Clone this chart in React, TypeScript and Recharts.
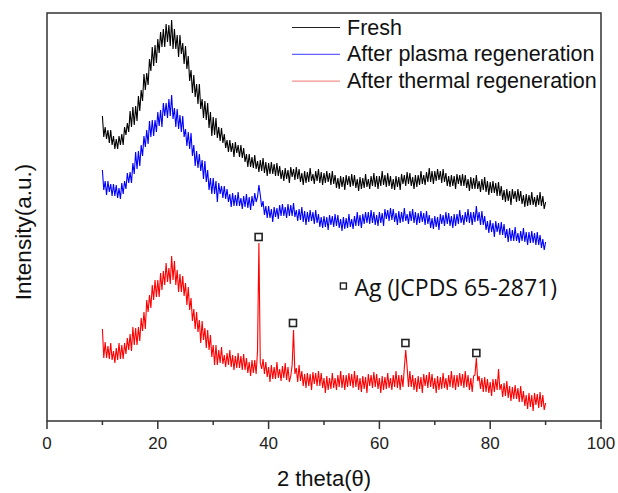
// XRD patterns of the sorbent: fresh vs. regenerated, with Ag reflections marked.
import { ComposedChart, Line, XAxis, YAxis, ReferenceArea, ReferenceDot, Legend } from "recharts";

const startAngle = 10;
const stepAngle = 0.25;

// intensity (a.u., offset per pattern), one value per 0.25 deg from 10 to 90
const fresh = [
  305,284,294,282, 291,278,291,276, 285,272,282,272, 285,276,287,276,
  294,286,298,289, 310,294,314,296, 315,300,325,310, 331,320,347,331,
  348,336,362,350, 374,355,376,358, 382,368,389,374, 392,374,397,379,
  396,375,401,372, 392,372,386,364, 386,367,378,357, 375,352,365,340,
  351,328,346,324, 337,317,337,312, 322,303,320,301, 318,293,309,285,
  304,286,303,283, 294,280,293,278, 287,273,281,269, 281,269,278,264,
  279,268,276,264, 276,263,273,259, 267,254,267,254, 264,253,266,252,
  260,249,261,250, 263,248,259,245, 258,247,259,247, 257,245,258,245,
  255,242,251,240, 253,242,251,238, 254,244,252,241, 254,242,252,239,
  248,236,250,238, 249,239,253,240, 247,237,250,240, 252,238,249,236,
  248,238,250,239, 248,236,250,237, 246,233,243,232, 245,234,244,231,
  246,236,245,234, 247,235,246,233, 242,230,244,232, 243,233,247,234,
  242,232,245,235, 248,234,245,232, 245,235,250,236, 246,234,248,235,
  245,232,242,231, 245,234,244,231, 247,237,246,235, 249,237,248,235,
  244,232,246,234, 246,236,250,237, 246,236,249,239, 253,239,250,237,
  250,240,252,241, 250,238,252,239, 248,235,245,234, 246,235,245,232,
  247,237,246,235, 247,235,246,233, 242,230,244,232, 243,232,246,232,
  240,229,242,231, 244,229,240,226, 239,228,240,228, 238,225,239,225,
  235,221,231,219, 232,220,230,216, 232,222,230,219, 232,220,230,217,
  226,214,227,215, 226,216,229,216, 224,214,226,216, 229,215,225,212,
  219,
];

const plasma = [
  251,231,240,226, 240,229,237,225, 237,225,236,223, 233,222,238,227,
  240,232,248,238, 249,238,258,247, 269,252,270,255, 276,265,285,274,
  291,277,300,284, 301,285,301,289, 309,295,311,294, 318,305,318,303,
  322,305,326,302, 313,294,312,292, 306,289,305,284, 292,275,289,272,
  288,265,276,255, 270,253,267,250, 261,242,260,239, 251,231,243,227,
  243,227,240,219, 238,227,235,223, 235,222,232,219, 227,214,228,215,
  226,215,229,215, 223,212,225,214, 227,213,224,211, 225,215,228,219,
  224,236,226,214, 220,206,215,203, 215,203,212,199, 214,204,213,202,
  216,205,217,205, 214,203,217,205, 216,205,218,204, 211,200,212,201,
  214,199,210,196, 209,199,211,200, 209,197,211,198, 207,194,204,193,
  205,194,204,191, 206,196,205,194, 207,195,206,193, 202,190,204,192,
  203,193,207,194, 202,192,205,195, 209,195,206,193, 207,197,209,198,
  209,197,211,198, 209,196,206,195, 209,198,208,195, 212,202,211,200,
  213,201,212,199, 208,196,210,198, 209,199,213,200, 207,197,210,200,
  212,198,209,196, 208,198,210,199, 208,196,210,197, 206,193,203,192,
  205,194,204,191, 207,197,206,195, 209,197,208,195, 205,193,207,195,
  207,197,211,198, 206,196,209,199, 212,198,209,196, 209,199,215,200,
  209,196,210,196, 205,191,200,188, 201,189,198,184, 200,189,198,186,
  199,186,197,183, 192,179,193,180, 191,180,194,180, 188,178,190,180,
  193,179,189,176, 189,178,190,178, 188,176,189,176, 186,173,182,171,
  179,
];

const thermal = [
  92,63,79,63, 75,62,78,61, 70,58,73,61, 78,62,76,62,
  78,67,83,71, 87,70,94,76, 93,76,94,80, 103,90,109,92,
  121,109,126,113, 136,121,141,124, 141,124,148,131, 150,136,158,139,
  153,137,165,141, 160,136,151,129, 147,129,145,125, 138,116,134,111,
  123,100,112,92, 109,89,101,78, 100,81,93,73, 91,71,86,64,
  76,56,76,56, 71,58,74,57, 66,54,68,56, 71,54,66,51,
  65,53,68,53, 65,51,67,51, 63,48,59,45, 61,48,61,47,
  70,178,58,52, 62,47,59,44, 54,39,56,42, 54,42,59,43,
  52,40,55,43, 58,41,54,39, 45,56,91,47, 53,39,56,40,
  50,35,47,33, 48,35,47,31, 49,37,48,35, 50,35,48,33,
  43,28,45,31, 43,32,48,33, 43,31,46,34, 50,33,46,31,
  46,34,48,35, 47,33,50,34, 46,31,43,29, 45,32,44,28,
  47,35,46,33, 49,34,47,32, 43,28,45,31, 44,32,48,33,
  43,31,46,34, 50,33,46,31, 46,34,53,71, 54,34,50,34,
  46,31,43,29, 45,32,44,28, 47,35,46,33, 49,34,47,32,
  43,28,45,31, 44,32,48,33, 43,31,46,34, 50,33,46,31,
  46,34,48,35, 47,33,50,34, 46,31,43,29, 45,46,63,40,
  45,32,43,29, 44,29,42,28, 39,25,42,29, 42,31,52,31,
  37,24,38,25, 40,23,35,20, 34,22,36,22, 33,19,35,19,
  30,15,26,12, 28,14,26,10, 28,16,27,13, 29,14,26,11,
  18,
];

// Ag reflections (2theta, marker height)
const agPeaks = [38.2, 44.4, 64.7, 77.5];
const agMarkY = [184, 98, 78, 68];
const agKey = { t: 53.5, v: 135, text: "Ag (JCPDS 65-2871)" };

const seriesNames = ["Fresh", "After plasma regeneration", "After thermal regeneration"];
const xTicks = [0, 10, 20, 30, 40, 50, 60, 70, 80, 90, 100];

const data = fresh.map((f, i) => ({
  t: startAngle + i * stepAngle,
  fresh: f,
  plasma: plasma[i],
  thermal: thermal[i],
}));

const sans = "'Liberation Sans', Arial, sans-serif";

function AxisTick({ x, y, payload }: any) {
  const major = payload.value % 20 === 0;
  return (
    <g>
      <line x1={x} x2={x} y1={y} y2={y + (major ? 8 : 4)} stroke="#333" strokeWidth={1.5} />
      {major && (
        <text x={x} y={y + 22} textAnchor="middle" dominantBaseline="central" fontFamily={sans} fontSize={17} fill="#222">
          {payload.value}
        </text>
      )}
    </g>
  );
}

function Square({ cx, cy }: any) {
  return <rect x={cx - 3.5} y={cy - 3.5} width={7} height={7} fill="#fff" stroke="#222" strokeWidth={1.6} />;
}

function KeyMark({ cx, cy }: any) {
  return (
    <g>
      <rect x={cx - 3} y={cy - 3} width={6} height={6} fill="#fff" stroke="#222" strokeWidth={1.4} />
      <text x={cx + 11} y={cy + 1} dominantBaseline="central" fontFamily="'Open Sans', sans-serif" fontSize={23} fill="#111">
        {agKey.text}
      </text>
    </g>
  );
}

const legendColors = ["#222", "#3a3aff", "#f27474"];

function LegendBox() {
  return (
    <svg width={330} height={85}>
      {seriesNames.map((n, i) => (
        <g key={n}>
          <line x1={7} x2={55} y1={15.5 + i * 26.8} y2={15.5 + i * 26.8} stroke={legendColors[i]} strokeWidth={1} />
          <text x={62} y={15.5 + i * 26.8} dominantBaseline="central" fontFamily={sans} fontSize={21.5} fill="#111">
            {n}
          </text>
        </g>
      ))}
    </svg>
  );
}

export default function App() {
  return (
    <div style={{ position: "absolute", left: 0, top: 0, width: 618, height: 493, background: "#fff" }}>
      <ComposedChart width={618} height={493} data={data} margin={{ top: 13, right: 17, bottom: 0, left: 0 }}>
        <XAxis
          dataKey="t"
          type="number"
          domain={[0, 100]}
          ticks={xTicks}
          height={72}
          axisLine={false}
          tickLine={false}
          tickSize={0}
          tickMargin={0}
          tick={<AxisTick />}
          interval={0}
          label={{
            content: ({ viewBox }: any) => (
              <text x={viewBox.x + viewBox.width / 2} y={478} textAnchor="middle" dominantBaseline="central" fontFamily={sans} fontSize={22} fill="#111">
                2 theta(θ)
              </text>
            ),
          }}
        />
        <YAxis
          type="number"
          domain={[0, 408]}
          width={47}
          tick={false}
          tickLine={false}
          axisLine={false}
          label={{
            content: () => (
              <text x={23} y={232} transform="rotate(-90 23 232)" textAnchor="middle" dominantBaseline="central" fontFamily={sans} fontSize={22.5} fill="#111">
                Intensity(a.u.)
              </text>
            ),
          }}
        />
        <ReferenceArea x1={0} x2={100} y1={0} y2={408} fill="none" fillOpacity={0} stroke="#333" strokeWidth={1.5} />
        <Legend
          layout="vertical"
          align="center"
          verticalAlign="middle"
          content={() => <LegendBox />}
          wrapperStyle={{ left: 285, top: 12, width: 330, height: 85 }}
        />
        <Line type="linear" dataKey="fresh" name={seriesNames[0]} stroke="#000" strokeWidth={1.1} dot={false} isAnimationActive={false} />
        <Line type="linear" dataKey="plasma" name={seriesNames[1]} stroke="#0000ff" strokeWidth={1.1} dot={false} isAnimationActive={false} />
        <Line type="linear" dataKey="thermal" name={seriesNames[2]} stroke="#ff0000" strokeWidth={1.1} dot={false} isAnimationActive={false} />
        {agPeaks.map((p, i) => (
          <ReferenceDot key={p} x={p} y={agMarkY[i]} r={3.5} shape={<Square />} />
        ))}
        <ReferenceDot x={agKey.t} y={agKey.v} r={3} shape={<KeyMark />} />
      </ComposedChart>
    </div>
  );
}
